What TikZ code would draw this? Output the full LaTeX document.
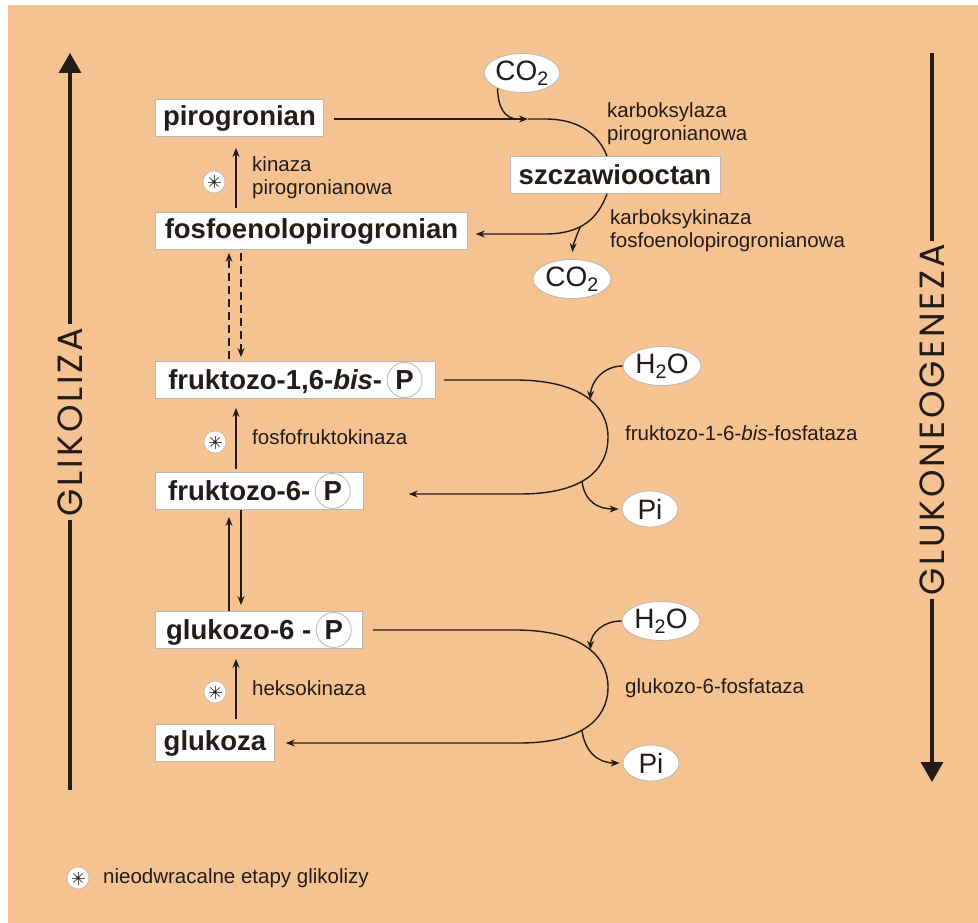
\documentclass[tikz,border=0pt]{standalone}
\usepackage{fontspec}
\setmainfont{Liberation Sans}
\newfontfamily\sidefont{Poppins}[LetterSpace=8]
\usetikzlibrary{arrows.meta,shapes.geometric}

\definecolor{peach}{RGB}{245,195,145}
\definecolor{ink}{RGB}{35,28,25}
\definecolor{rim}{RGB}{190,182,172}

\tikzset{
  box/.style={draw=rim, fill=white, line width=0.8pt, minimum height=37pt,
    inner xsep=0pt, inner ysep=0pt, anchor=west, text=ink,
    font=\fontsize{27.5}{31}\selectfont\bfseries},
  mol/.style={ellipse, draw=rim, fill=white, line width=0.8pt, inner sep=0pt,
    minimum width=78pt, minimum height=39pt, text=ink,
    font=\fontsize{28}{32}\selectfont},
  enz/.style={anchor=west, align=left, inner sep=0pt, text=ink,
    font=\fontsize{20.5}{23}\selectfont},
  flow/.style={draw=ink, line width=1.4pt},
  conn/.style={flow, -{Stealth[length=9pt,width=7pt]}},
  big/.style={draw=ink, line width=3.5pt},
  bigtip/.style={big, -{Triangle[length=20pt,width=22pt]}},
  irrev/.style={circle, fill=white, draw=rim, line width=0.6pt,
    minimum size=22pt, inner sep=0pt,
    path picture={
      \foreach \a in {0,45,90,135}
        \draw[ink!75, line width=0.9pt] (path picture bounding box.center)
          ++(\a:6.5pt) -- ++(\a+180:13pt);
      \fill[ink] (path picture bounding box.center) circle (1.8pt);}},
  side/.style={rotate=90, text=ink, font=\sidefont\fontsize{35}{40}\selectfont},
}
\newcommand\pgrp{\tikz[baseline=(p.base)]
  \node[circle, draw=rim, fill=white, line width=0.8pt, minimum size=35pt,
    inner sep=0pt, anchor=center, font=\fontsize{27.5}{31}\selectfont\bfseries] (p) {P};}

\begin{document}
\begin{tikzpicture}[x=1pt,y=-1pt]
  \useasboundingbox (0,0) rectangle (978,923);
  \fill[white] (0,0) rectangle (978,923);
  \fill[peach] (8,5) rectangle (978,923);

  \node[side] (glik) at (70,422) {GLIKOLIZA};
  \coordinate (glikTop) at (70,53);
  \coordinate (glikBot) at (70,790);
  \draw[bigtip] (glik.east) -- (glikTop);
  \draw[big] (glik.west) -- (glikBot);

  \node[side] (glun) at (932,420) {GLUKONEOGENEZA};
  \coordinate (glunTop) at (932,53);
  \coordinate (glunBot) at (932,782);
  \draw[big] (glun.east) -- (glunTop);
  \draw[bigtip] (glun.west) -- (glunBot);

  \node[box, minimum width=168pt] (pir) at (155,118) {pirogronian};
  \node[box, minimum width=312pt] (pep) at (155,231) {fosfoenolopirogronian};
  \node[box, minimum width=210pt, anchor=center] (oaa) at (615,175) {szczawiooctan};
  \node[box, minimum width=280pt] (f16) at (155,380) {fruktozo-1,6-\textit{bis}-\,\pgrp};
  \node[box, minimum width=208pt] (f6) at (155,491) {fruktozo-6-\,\pgrp};
  \node[box, minimum width=207pt] (g6) at (155,630) {glukozo-6 -\,\pgrp};
  \node[box, minimum width=119pt] (glc) at (155,743) {glukoza};

  \node[mol, minimum width=72pt] (co2a) at (522,73) {CO\textsubscript{2}};
  \node[mol] (co2b) at (572,279) {CO\textsubscript{2}};
  \node[mol] (h2oa) at (662,366) {H\textsubscript{2}O};
  \node[mol, minimum width=56pt, minimum height=36pt] (pia) at (650,509) {Pi};
  \node[mol] (h2ob) at (661,621) {H\textsubscript{2}O};
  \node[mol, minimum width=56pt, minimum height=36pt] (pib) at (651,763) {Pi};

  \node[enz] (pc) at (607,124) {karboksylaza\\pirogronianowa};
  \node[enz] (pepck) at (610,231) {karboksykinaza\\fosfoenolopirogronianowa};
  \node[enz] (pk) at (252,178) {kinaza\\pirogronianowa};
  \node[enz] (pfk) at (252,437) {fosfofruktokinaza};
  \node[enz] (hk) at (252,688) {heksokinaza};
  \node[enz] (fbp) at (625,433) {fruktozo-1-6-\textit{bis}-fosfataza};
  \node[enz] (g6p) at (625,688) {glukozo-6-fosfataza};

  \node[irrev] (s1) at (214,182) {};
  \node[irrev] (s2) at (215,442) {};
  \node[irrev] (s3) at (215,692) {};

  \coordinate (cA) at (236,0);
  \coordinate (cUp) at (229,0);
  \coordinate (cDn) at (241,0);
  \draw[conn, shorten <=4pt, shorten >=11pt] (cA |- pep.north) -- (cA |- pir.south);
  \draw[conn, dash pattern=on 8pt off 5pt, shorten <=2pt, shorten >=3pt]
    (cUp |- f16.north) -- (cUp |- pep.south);
  \draw[conn, dash pattern=on 8pt off 5pt, shorten <=3pt, shorten >=4pt]
    (cDn |- pep.south) -- (cDn |- f16.north);
  \draw[conn, shorten <=3pt, shorten >=9pt] (cA |- f6.north) -- (cA |- f16.south);
  \draw[conn, shorten >=7pt] (cUp |- g6.north) -- (cUp |- f6.south);
  \draw[conn, shorten >=6pt] (cDn |- f6.south) -- (cDn |- g6.north);
  \draw[conn, shorten <=5pt, shorten >=10pt] (cA |- glc.north) -- (cA |- g6.south);

  \coordinate (pcTip) at (528,119);
  \draw[conn] ([xshift=10pt,yshift=-1pt]pir.east) -- (pcTip);
  \draw[flow] (pcTip) -- (545,119) .. controls (583,119) and (600,138) .. ([xshift=-8pt]oaa.north);
  \draw[flow] (co2a.212) .. controls (498,108) and (505,119) .. (518,119);
  \draw[conn] ([xshift=-8pt]oaa.south) .. controls (598,218) and (582,234) .. (545,234)
    coordinate[pos=0.6] (pepBr) -- ([xshift=8pt,yshift=-3pt]pep.east);
  \draw[conn, shorten >=7pt] (pepBr) .. controls (575,240) and (573,245) .. (co2b.north);

  \draw[conn] ([xshift=8pt]f16.east) -- (515,380)
    .. controls (580,380) and (608,405) .. (608,437) coordinate[pos=0.55] (fbpIn)
    .. controls (608,472) and (580,494) .. (520,494) coordinate[pos=0.55] (fbpOut)
    -- ([xshift=45pt,yshift=-3pt]f6.east);
  \draw[conn] (h2oa.west) .. controls (603,366) and (591,382) .. (fbpIn);
  \draw[conn, shorten >=3pt] (fbpOut) .. controls (585,502) and (598,509) .. (pia.west);

  \draw[conn] ([xshift=10pt]g6.east) -- (515,630)
    .. controls (580,630) and (608,655) .. (608,687) coordinate[pos=0.55] (g6pIn)
    .. controls (608,720) and (580,743) .. (520,743) coordinate[pos=0.55] (g6pOut)
    -- ([xshift=11pt]glc.east);
  \draw[conn] (h2ob.west) .. controls (603,621) and (591,633) .. (g6pIn);
  \draw[conn, shorten >=3pt] (g6pOut) .. controls (585,752) and (598,763) .. (pib.west);

  \node[irrev] (key) at (78,878) {};
  \node[enz] (keytxt) at (103,878) {nieodwracalne etapy glikolizy};
\end{tikzpicture}
\end{document}
